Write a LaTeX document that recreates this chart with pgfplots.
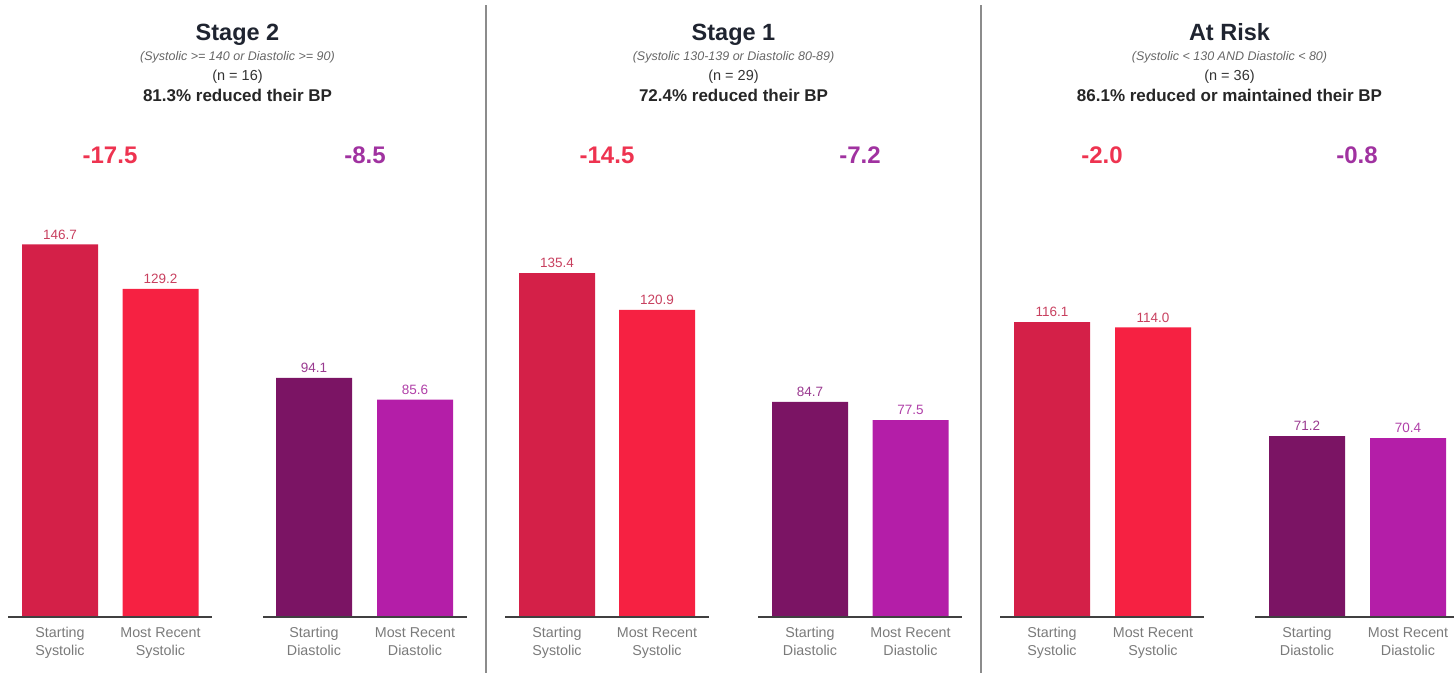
\documentclass[border=0pt]{standalone}
\usepackage{pgfplots}
\pgfplotsset{compat=1.18}
\usepackage{fontspec}
\setmainfont{Liberation Sans}
\definecolor{sysStart}{HTML}{D42048}
\definecolor{sysRecent}{HTML}{F62142}
\definecolor{diaStart}{HTML}{7B1464}
\definecolor{diaRecent}{HTML}{B41EA8}
\definecolor{sysLab}{HTML}{C8405F}
\definecolor{diaLab}{HTML}{9A3A90}
\definecolor{diaLabB}{HTML}{B040A8}
\definecolor{diffRed}{HTML}{EE3350}
\definecolor{diffPur}{HTML}{A032A0}
\definecolor{titleCol}{HTML}{1F2430}
\definecolor{tickCol}{HTML}{7A7A7A}
\newcommand{\ttl}[4]{%
  \node[anchor=base,font=\fontsize{23.5}{27}\selectfont\bfseries,text=titleCol] at (axis cs:#1,226.8) {#2};
  \node[anchor=base,font=\fontsize{12.5}{14}\selectfont\itshape,text=black!60] at (axis cs:#1,218.9) {#3};
  \node[anchor=base,font=\fontsize{14.5}{16}\selectfont,text=black!80] at (axis cs:#1,211.4) {#4};
}
\begin{document}
\begin{tikzpicture}
\begin{axis}[
  width=1454pt, height=673pt, scale only axis,
  xmin=0, xmax=1454, ymin=-22.05, ymax=242.9,
  axis x line=middle, axis y line=none,
  axis line style={draw=none},
  ytick=\empty,
  major tick length=0pt,
  xtick={60,160.5,314,415,557,657,810,910.5,1052,1153,1307,1408},
  xticklabels={Starting\\Systolic, Most Recent\\Systolic, Starting\\Diastolic, Most Recent\\Diastolic,
               Starting\\Systolic, Most Recent\\Systolic, Starting\\Diastolic, Most Recent\\Diastolic,
               Starting\\Systolic, Most Recent\\Systolic, Starting\\Diastolic, Most Recent\\Diastolic},
  xticklabel style={align=center, text=tickCol, font=\fontsize{14.3}{18}\selectfont,
    anchor=north, yshift=-7pt},
  ybar, bar width=76, bar shift=0pt,
  nodes near coords,
  point meta=y,
  every node near coord/.append style={font=\fontsize{13.5}{15}\selectfont, inner sep=0pt, yshift=5pt,
    /pgf/number format/fixed, /pgf/number format/fixed zerofill, /pgf/number format/precision=1,
    /pgf/number format/assume math mode=true},
  clip=false,
]
\addplot[fill=sysStart, draw=none, every node near coord/.append style={text=sysLab}]
  coordinates {(60,146.7) (557,135.4) (1052,116.1)};
\addplot[fill=sysRecent, draw=none, every node near coord/.append style={text=sysLab}]
  coordinates {(160.5,129.2) (657,120.9) (1153,114.0)};
\addplot[fill=diaStart, draw=none, every node near coord/.append style={text=diaLab}]
  coordinates {(314,94.1) (810,84.7) (1307,71.2)};
\addplot[fill=diaRecent, draw=none, every node near coord/.append style={text=diaLabB}]
  coordinates {(415,85.6) (910.5,77.5) (1408,70.4)};

% baselines under each pair
\pgfplotsinvokeforeach{110,365,607,860,1102,1357}{
  \draw[black!75, line width=1.2pt] (axis cs:#1-102,0) -- (axis cs:#1+102,0);
}
% panel separators
\draw[black!45, line width=1.5pt] (axis cs:486,240.9) -- (axis cs:486,-22.05);
\draw[black!45, line width=1.5pt] (axis cs:981,240.9) -- (axis cs:981,-22.05);

% titles
\ttl{237.5}{Stage 2}{(Systolic >= 140 or Diastolic >= 90)}{(n = 16)}
\ttl{733.5}{Stage 1}{(Systolic 130-139 or Diastolic 80-89)}{(n = 29)}
\ttl{1229.5}{At Risk}{(Systolic < 130 AND Diastolic < 80)}{(n = 36)}
\node[anchor=base,font=\fontsize{17}{20}\selectfont\bfseries,text=black!85] at (axis cs:237.5,203.1) {81.3\% reduced their BP};
\node[anchor=base,font=\fontsize{17}{20}\selectfont\bfseries,text=black!85] at (axis cs:733.5,203.1) {72.4\% reduced their BP};
\node[anchor=base,font=\fontsize{17}{20}\selectfont\bfseries,text=black!85] at (axis cs:1229.5,203.1) {86.1\% reduced or maintained their BP};

% differences
\node[anchor=base,font=\fontsize{24}{28}\selectfont\bfseries,text=diffRed] at (axis cs:110,178.7) {-17.5};
\node[anchor=base,font=\fontsize{24}{28}\selectfont\bfseries,text=diffPur] at (axis cs:365,178.7) {-8.5};
\node[anchor=base,font=\fontsize{24}{28}\selectfont\bfseries,text=diffRed] at (axis cs:607,178.7) {-14.5};
\node[anchor=base,font=\fontsize{24}{28}\selectfont\bfseries,text=diffPur] at (axis cs:860,178.7) {-7.2};
\node[anchor=base,font=\fontsize{24}{28}\selectfont\bfseries,text=diffRed] at (axis cs:1102,178.7) {-2.0};
\node[anchor=base,font=\fontsize{24}{28}\selectfont\bfseries,text=diffPur] at (axis cs:1357,178.7) {-0.8};

\coordinate (sw) at (rel axis cs:0,0);
\coordinate (ne) at (rel axis cs:1,1);
\end{axis}
\pgfresetboundingbox
\path (sw) rectangle (ne);
\end{tikzpicture}
\end{document}
